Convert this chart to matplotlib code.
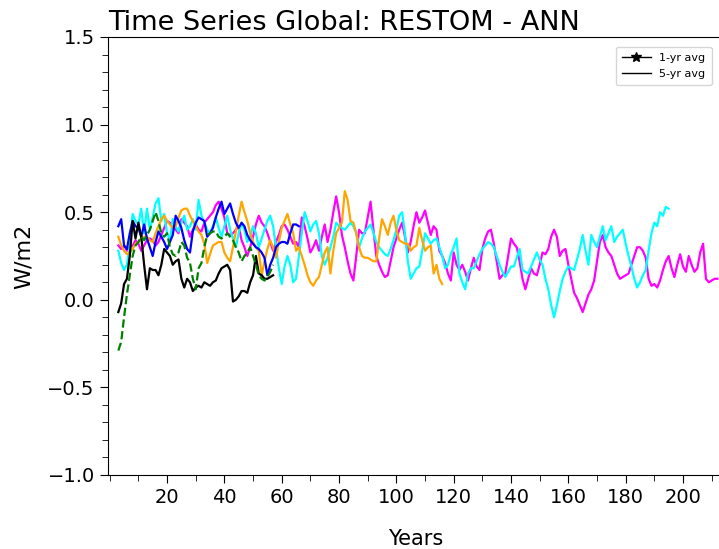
import matplotlib
matplotlib.use("Agg")
import matplotlib.pyplot as plt
from matplotlib.lines import Line2D
from matplotlib.ticker import MultipleLocator

start_year = 3

magenta = [0.31, 0.29, 0.31, 0.28, 0.30, 0.31, 0.34, 0.32, 0.28, 0.31, 0.34, 0.35, 0.34, 0.31, 0.33, 0.37,
           0.41, 0.45, 0.44, 0.43, 0.40, 0.38, 0.46, 0.44, 0.42, 0.36, 0.40, 0.43, 0.40, 0.39,
           0.44, 0.46, 0.48, 0.50, 0.54, 0.56, 0.52, 0.47, 0.38, 0.37, 0.38, 0.40, 0.42, 0.34, 0.30, 0.25,
           0.30, 0.36, 0.43, 0.48, 0.44, 0.42, 0.38, 0.33, 0.28, 0.33, 0.37, 0.42, 0.43, 0.40, 0.36, 0.32,
           0.33, 0.30,
           0.47, 0.42, 0.35, 0.27, 0.30, 0.34, 0.28, 0.36, 0.43, 0.33, 0.40, 0.50, 0.59, 0.50, 0.37, 0.30,
           0.22, 0.15, 0.11, 0.25, 0.40, 0.38, 0.38, 0.47, 0.56, 0.40, 0.25, 0.20, 0.16, 0.13, 0.14, 0.22,
           0.30, 0.35, 0.40, 0.44,
           0.36, 0.27, 0.33, 0.42, 0.50, 0.44, 0.47, 0.51, 0.44, 0.37, 0.42, 0.40, 0.28, 0.25, 0.21, 0.15,
           0.11, 0.27, 0.20, 0.17, 0.20, 0.16, 0.11, 0.18, 0.24, 0.19, 0.17, 0.29, 0.35, 0.39, 0.40, 0.32,
           0.22, 0.12, 0.14, 0.15, 0.25, 0.35,
           0.32, 0.30, 0.22, 0.12, 0.06, 0.12, 0.18, 0.15, 0.14, 0.20, 0.27, 0.26, 0.29, 0.36, 0.40, 0.36,
           0.25, 0.28, 0.29, 0.20, 0.12, 0.04, 0.01, -0.03, -0.07, -0.02, 0.03, 0.06, 0.11, 0.22, 0.33, 0.37,
           0.30, 0.27, 0.25,
           0.20, 0.15, 0.12, 0.13, 0.14, 0.15, 0.20, 0.25, 0.30, 0.30, 0.28, 0.24, 0.12, 0.08, 0.09, 0.07,
           0.11, 0.17, 0.22, 0.25, 0.18, 0.13, 0.20, 0.26, 0.19, 0.16, 0.25, 0.20, 0.16, 0.18, 0.27, 0.32,
           0.12, 0.10, 0.11, 0.12, 0.12]

cyan = [0.28, 0.21, 0.17, 0.20, 0.31, 0.49, 0.45, 0.43, 0.52, 0.38, 0.52, 0.40, 0.47, 0.55, 0.58, 0.45,
        0.49, 0.38, 0.34, 0.46, 0.42, 0.39, 0.44, 0.48, 0.40, 0.42, 0.46, 0.40, 0.57, 0.48, 0.44, 0.40,
        0.38, 0.42, 0.47, 0.41, 0.36, 0.42, 0.48, 0.40, 0.35, 0.30, 0.38, 0.44, 0.40, 0.33, 0.36, 0.42,
        0.38, 0.30, 0.35, 0.40, 0.45, 0.48, 0.42, 0.30, 0.18, 0.09, 0.19, 0.25, 0.20, 0.10, 0.12, 0.25,
        0.38, 0.50, 0.45, 0.39, 0.43, 0.45, 0.38, 0.25, 0.20, 0.24, 0.30, 0.36, 0.44, 0.42, 0.41, 0.40,
        0.42, 0.44, 0.42, 0.38, 0.30, 0.35, 0.39, 0.41, 0.43, 0.38, 0.33, 0.30, 0.28, 0.26, 0.25, 0.29,
        0.34, 0.40, 0.48, 0.50, 0.38, 0.22, 0.12, 0.15, 0.18, 0.19, 0.28, 0.38, 0.35, 0.32, 0.34, 0.35,
        0.30, 0.25, 0.18, 0.20, 0.26, 0.30, 0.35, 0.15, 0.10, 0.06, 0.15, 0.18, 0.18, 0.22, 0.26, 0.29,
        0.31, 0.33, 0.32, 0.30, 0.25, 0.20, 0.16, 0.13, 0.16, 0.19, 0.19, 0.24, 0.29, 0.17, 0.16, 0.15,
        0.19, 0.23, 0.27, 0.23, 0.20, 0.12, 0.06, -0.03, -0.10, -0.03, 0.05, 0.12, 0.16, 0.19, 0.18, 0.17,
        0.23, 0.29, 0.37, 0.28, 0.20, 0.37, 0.33, 0.30, 0.36, 0.42, 0.34, 0.38, 0.42, 0.33, 0.36, 0.38,
        0.40, 0.32, 0.25, 0.19, 0.12, 0.07, 0.10, 0.14, 0.17, 0.28, 0.38, 0.44, 0.42, 0.50, 0.48, 0.53,
        0.52]

orange = [0.36, 0.31, 0.28, 0.26, 0.27, 0.29, 0.32, 0.33, 0.35, 0.36, 0.36, 0.34, 0.33, 0.38, 0.42, 0.46,
          0.48, 0.45, 0.43, 0.41, 0.42, 0.47, 0.51, 0.52, 0.52, 0.48, 0.45, 0.42, 0.39, 0.37, 0.32, 0.21,
          0.26, 0.31, 0.32, 0.33, 0.33, 0.27, 0.24, 0.22, 0.30, 0.39, 0.48, 0.56, 0.50, 0.45, 0.38, 0.33,
          0.30, 0.28, 0.14, 0.22, 0.29, 0.34, 0.30, 0.24, 0.33, 0.41, 0.45, 0.49, 0.43, 0.38, 0.28, 0.30,
          0.25, 0.20, 0.14, 0.10, 0.08, 0.11, 0.13, 0.20, 0.27, 0.30, 0.15, 0.28, 0.38, 0.41, 0.44, 0.62,
          0.57, 0.45, 0.44, 0.38, 0.30, 0.25, 0.24, 0.24, 0.23, 0.22, 0.22, 0.35, 0.46, 0.42, 0.37, 0.44,
          0.48, 0.40, 0.34, 0.33, 0.32, 0.32, 0.28, 0.30, 0.31, 0.41, 0.34, 0.28, 0.30, 0.31, 0.15, 0.20,
          0.12, 0.09]

blue = [0.42, 0.46, 0.31, 0.29, 0.38, 0.45, 0.42, 0.41, 0.36, 0.43, 0.35, 0.30, 0.25, 0.33, 0.39, 0.36,
        0.33, 0.29, 0.33, 0.37, 0.48, 0.45, 0.41, 0.34, 0.29, 0.27, 0.39, 0.44, 0.47, 0.46, 0.45, 0.36,
        0.38, 0.41, 0.47, 0.52, 0.56, 0.49, 0.52, 0.55, 0.49, 0.44, 0.41, 0.44, 0.42, 0.37, 0.34, 0.32,
        0.30, 0.29, 0.27, 0.24, 0.14, 0.20, 0.24, 0.30, 0.32, 0.33, 0.33, 0.32, 0.38, 0.43, 0.43, 0.42]

black = [-0.07, -0.02, 0.09, 0.12, 0.25, 0.45, 0.35, 0.44, 0.36, 0.20, 0.06, 0.18, 0.17, 0.17, 0.14, 0.20,
         0.29, 0.27, 0.25, 0.20, 0.22, 0.23, 0.12, 0.07, 0.12, 0.10, 0.05, 0.07, 0.08, 0.07, 0.10, 0.09,
         0.08, 0.10, 0.11, 0.15, 0.18, 0.19, 0.20, 0.17, -0.01, 0.00, 0.02, 0.05, 0.05, 0.04, 0.10, 0.14,
         0.25, 0.15, 0.14, 0.12, 0.12, 0.13, 0.14]

green = [-0.29, -0.24, -0.10, 0.03, 0.14, 0.25, 0.31, 0.33, 0.36, 0.34, 0.37, 0.40, 0.45, 0.50, 0.45, 0.38,
         0.36, 0.38, 0.30, 0.26, 0.25, 0.27, 0.33, 0.31, 0.24, 0.21, 0.12, 0.06, 0.18, 0.21, 0.30, 0.37,
         0.38, 0.39, 0.39, 0.36, 0.35, 0.36, 0.38, 0.36, 0.34, 0.30, 0.27, 0.22, 0.25, 0.27, 0.30, 0.25,
         0.20, 0.14, 0.12, 0.11, 0.13, 0.16, 0.20]

series = [
    (magenta, "magenta", "-"),
    (cyan, "cyan", "-"),
    (orange, "orange", "-"),
    (blue, "blue", "-"),
    (black, "black", "-"),
    (green, "green", "--"),
]

fig = plt.figure(figsize=(7.19, 5.49), dpi=100)
ax = fig.add_axes([108 / 719, 74 / 549, 616 / 719, 438 / 549])

for vals, col, ls in series:
    years = list(range(start_year, start_year + len(vals)))
    ax.plot(years, vals, color=col, linestyle=ls, linewidth=1.6)

ax.set_xlim(-0.6, 214.3)
ax.set_ylim(-1.0, 1.5)
ax.xaxis.set_major_locator(MultipleLocator(20))
ax.xaxis.set_minor_locator(MultipleLocator(10))
ax.yaxis.set_major_locator(MultipleLocator(0.5))
ax.yaxis.set_minor_locator(MultipleLocator(0.1))
ax.set_xticks([20, 40, 60, 80, 100, 120, 140, 160, 180, 200])
ax.tick_params(axis="both", which="major", labelsize=14, length=6)
ax.tick_params(axis="both", which="minor", length=4)
ax.spines["right"].set_visible(False)

ax.set_xlabel("Years", fontsize=15, labelpad=16)
ax.set_ylabel("W/m2", fontsize=16, labelpad=10)
ax.set_title("Time Series Global: RESTOM - ANN", fontsize=19.5, loc="left", pad=5)

handles = [Line2D([], [], color="black", marker="*", markersize=7, linewidth=1),
           Line2D([], [], color="black", linewidth=1)]
ax.legend(handles, ["1-yr avg", "5-yr avg"], loc="upper right", fontsize=8,
          bbox_to_anchor=(0.98, 0.977), borderaxespad=0, handlelength=2.6,
          labelspacing=0.5, borderpad=0.55)

fig.savefig("out.png", dpi=100)
